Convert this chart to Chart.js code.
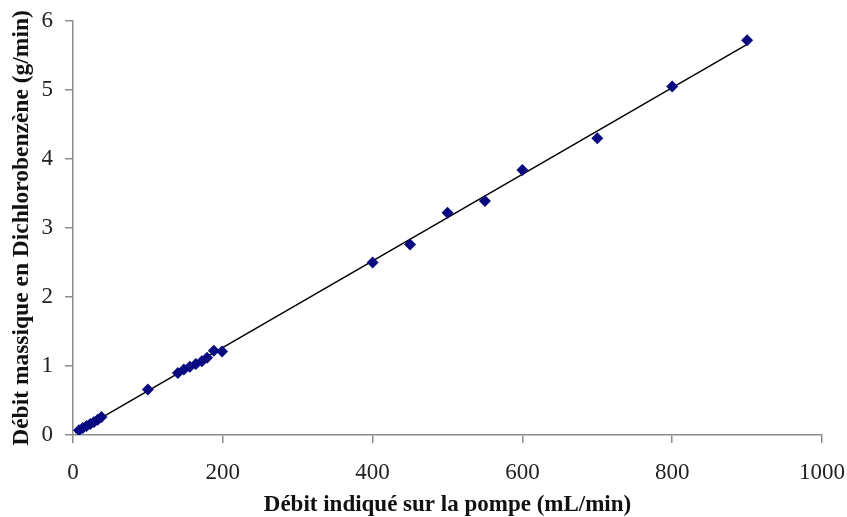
<!DOCTYPE html>
<html>
<head>
<meta charset="utf-8">
<script src="https://cdn.jsdelivr.net/npm/chart.js@4/dist/chart.umd.min.js"></script>
<style>
  html, body { margin: 0; padding: 0; background: #fff; }
  canvas { display: block; }
</style>
</head>
<body>
<canvas id="chart" width="847" height="517"></canvas>
<script>
// Débit pompe (mL/min) -> débit massique (g/min)
const debitPompe = [8, 13, 18, 23, 28, 33, 38, 100, 140, 148, 156, 164, 172, 179, 188, 199, 400, 450, 500, 550, 600, 700, 800, 900];
const debitMassique = [0.07, 0.10, 0.13, 0.16, 0.19, 0.22, 0.26, 0.66, 0.90, 0.95, 0.99, 1.03, 1.07, 1.12, 1.22, 1.21, 2.50, 2.76, 3.22, 3.39, 3.84, 4.30, 5.05, 5.72];

// droite de tendance (extrémités)
const tendanceX = [3, 900];
const tendanceY = [0.03, 5.66];

const xTicks = [0, 200, 400, 600, 800, 1000];
const yTicks = [0, 1, 2, 3, 4, 5, 6];

const FONT = "'Liberation Serif', 'Times New Roman', serif";
const AXIS_GREY = '#8c8c8c';

const points = debitPompe.map((x, i) => ({ x: x, y: debitMassique[i] }));
const tendance = tendanceX.map((x, i) => ({ x: x, y: tendanceY[i] }));

new Chart(document.getElementById('chart'), {
  type: 'scatter',
  data: {
    datasets: [
      {
        label: 'Tendance',
        data: tendance,
        showLine: true,
        borderColor: '#000',
        borderWidth: 1.5,
        pointRadius: 0,
        order: 2
      },
      {
        label: 'Mesures',
        data: points,
        pointStyle: 'rectRot',
        pointRadius: 6,
        backgroundColor: '#0a0a80',
        borderColor: '#0a0a80',
        borderWidth: 0,
        order: 1
      }
    ]
  },
  options: {
    responsive: false,
    animation: false,
    layout: { padding: { left: 0, right: 25, top: 21, bottom: 0 } },
    plugins: { legend: { display: false }, tooltip: { enabled: false } },
    scales: {
      x: {
        type: 'linear',
        min: 0,
        max: 1000,
        afterBuildTicks: (s) => { s.ticks = xTicks.map(v => ({ value: v })); },
        afterFit: (s) => { s.height = 82; s.paddingLeft = 0; s.paddingRight = 0; },
        grid: { drawOnChartArea: false, drawTicks: true, tickLength: 8, color: AXIS_GREY, lineWidth: 1.5 },
        border: { color: AXIS_GREY, width: 1.5 },
        ticks: {
          color: '#222',
          padding: 16,
          maxRotation: 0,
          callback: (v) => String(v),
          font: { family: FONT, size: 23 }
        },
        title: {
          display: true,
          text: 'Débit indiqué sur la pompe (mL/min)',
          color: '#111',
          padding: { top: 0, bottom: 0 },
          font: { family: FONT, size: 23, weight: 'bold', lineHeight: 1 }
        }
      },
      y: {
        type: 'linear',
        min: 0,
        max: 6,
        afterBuildTicks: (s) => { s.ticks = yTicks.map(v => ({ value: v })); },
        afterFit: (s) => { s.width = 73; s.paddingTop = 0; s.paddingBottom = 0; },
        grid: { drawOnChartArea: false, drawTicks: true, tickLength: 8, color: AXIS_GREY, lineWidth: 1.5 },
        border: { color: AXIS_GREY, width: 1.5 },
        ticks: { color: '#222', padding: 12, callback: (v) => String(v), font: { family: FONT, size: 23 } },
        title: {
          display: true,
          text: 'Débit massique en Dichlorobenzène (g/min)',
          color: '#111',
          padding: { top: 8, bottom: 0 },
          font: { family: FONT, size: 23.5, weight: 'bold' }
        }
      }
    }
  }
});
</script>
</body>
</html>
